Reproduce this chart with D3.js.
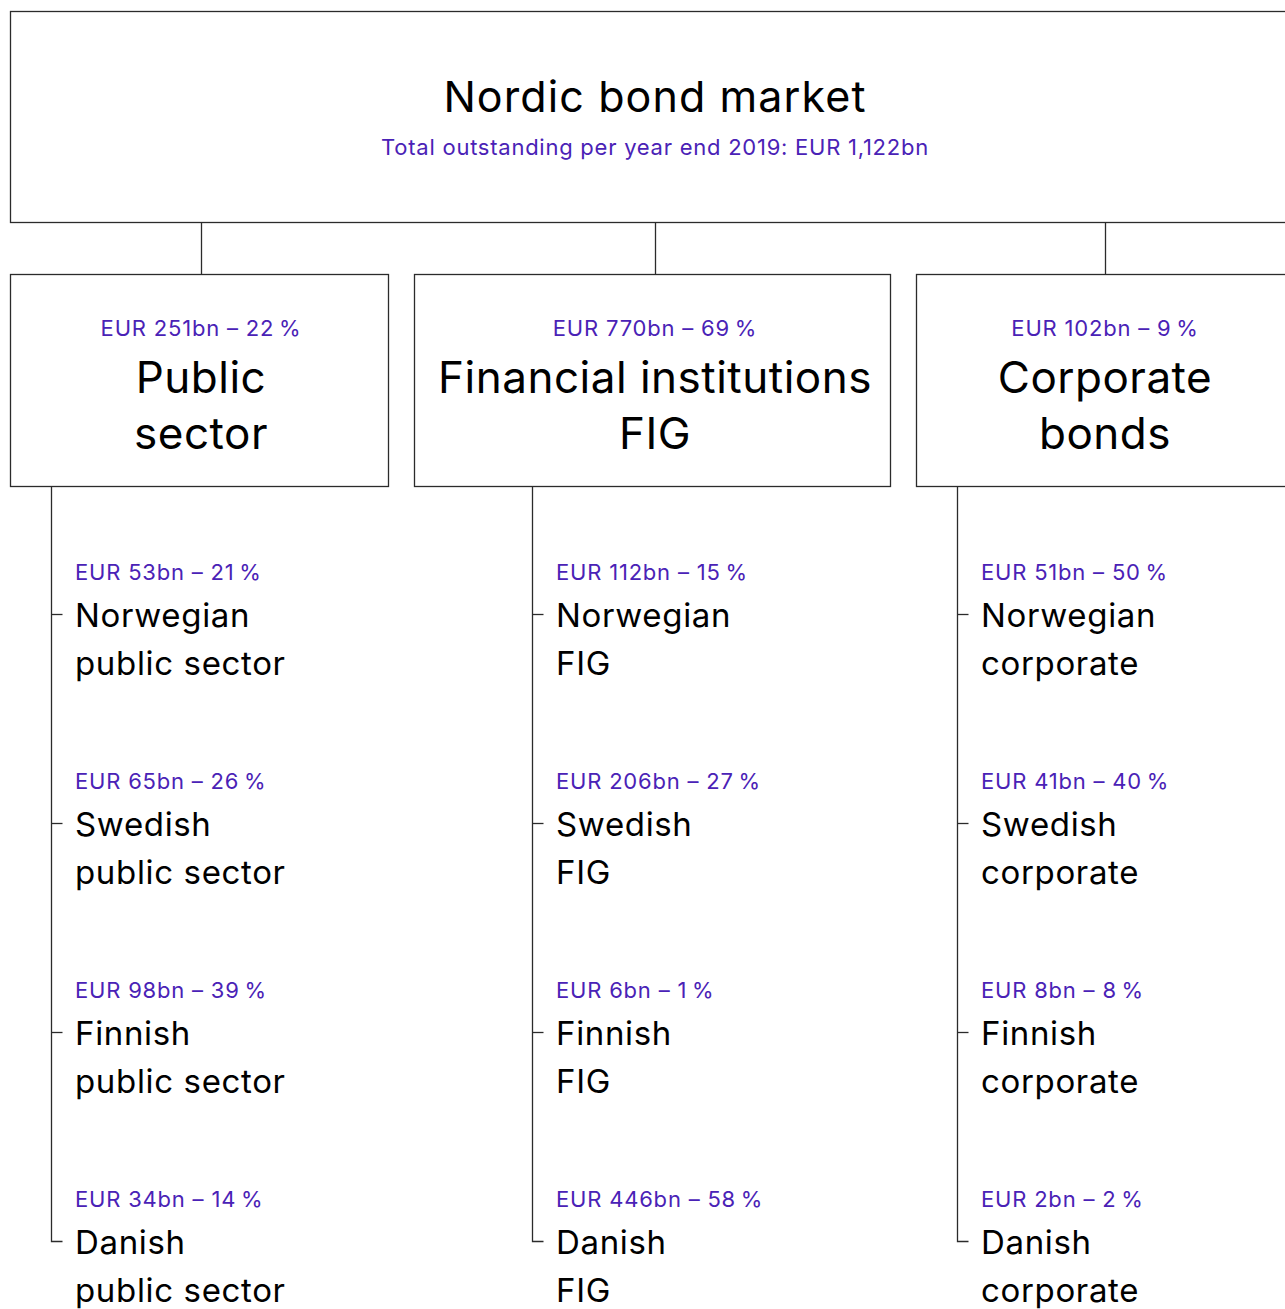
<!DOCTYPE html>
<html><head><meta charset="utf-8">
<script src="https://cdn.jsdelivr.net/npm/d3@7"></script>
<style>
html,body{margin:0;padding:0;background:#fff;overflow:hidden}
svg{display:block}
</style></head>
<body>
<script>
// ---- data ----
const title = "Nordic bond market";
const subtitle = "Total outstanding per year end 2019: EUR 1,122bn";
const sectorNames = [["Public", "sector"], ["Financial institutions", "FIG"], ["Corporate", "bonds"]];
const sectorValues = [251, 770, 102];
const sectorShares = [22, 69, 9];
const countries = ["Norwegian", "Swedish", "Finnish", "Danish"];
const childSuffix = ["public sector", "FIG", "corporate"];
const publicValues = [53, 65, 98, 34];
const publicShares = [21, 26, 39, 14];
const figValues = [112, 206, 6, 446];
const figShares = [15, 27, 1, 58];
const corpValues = [51, 41, 8, 2];
const corpShares = [50, 40, 8, 2];

const childValues = [publicValues, figValues, corpValues];
const childShares = [publicShares, figShares, corpShares];

// ---- layout ----
const W = 1285, H = 1309;
const PURPLE = "#4a22b6", STROKE = "#2b2b2b", FONT = "Inter, 'Noto Sans', sans-serif";
const svg = d3.select("body").append("svg").attr("width", W).attr("height", H);

const root = d3.hierarchy({
  name: title,
  children: sectorNames.map((n, i) => ({
    name: n, value: sectorValues[i], share: sectorShares[i],
    children: countries.map((c, j) => ({name: [c, childSuffix[i]], value: childValues[i][j], share: childShares[i][j]}))
  }))
});

const fmt = (v, s) => `EUR ${v}bn – ${s}\u2009%`;

// top box
const topBox = {x0: 10, x1: 1300, y0: 11, y1: 222};
svg.append("rect").attr("x", topBox.x0 + .5).attr("y", topBox.y0 + .5)
  .attr("width", topBox.x1 - topBox.x0).attr("height", topBox.y1 - topBox.y0)
  .attr("fill", "none").attr("stroke", STROKE).attr("stroke-width", 1.3);
svg.append("text").attr("x", 655).attr("y", 112).attr("text-anchor", "middle")
  .attr("font-family", FONT).attr("font-size", 43).attr("letter-spacing", 1.1)
  .attr("fill", "#000").text(root.data.name);
svg.append("text").attr("x", 655).attr("y", 155).attr("text-anchor", "middle")
  .attr("font-family", FONT).attr("font-size", 22).attr("letter-spacing", 0.75)
  .attr("fill", PURPLE).text(subtitle);

// sector boxes
const boxX0 = [10, 414, 916], boxX1 = [388, 890, 1294];
const centers = [201, 655, 1105];
const branchX = [51, 532, 957];
const boxY0 = 274, boxY1 = 486;
const rowY = d3.scalePoint().domain(d3.range(countries.length)).range([614, 1241]);

root.children.forEach((s, i) => {
  const g = svg.append("g");
  g.append("line").attr("x1", centers[i] + .5).attr("x2", centers[i] + .5)
    .attr("y1", topBox.y1).attr("y2", boxY0).attr("stroke", STROKE).attr("stroke-width", 1.3);
  g.append("rect").attr("x", boxX0[i] + .5).attr("y", boxY0 + .5)
    .attr("width", boxX1[i] - boxX0[i]).attr("height", boxY1 - boxY0)
    .attr("fill", "none").attr("stroke", STROKE).attr("stroke-width", 1.3);
  g.append("text").attr("x", centers[i]).attr("y", 336).attr("text-anchor", "middle")
    .attr("font-family", FONT).attr("font-size", 22).attr("letter-spacing", 0.8).attr("fill", PURPLE)
    .text(fmt(s.data.value, s.data.share));
  s.data.name.forEach((ln, k) => {
    g.append("text").attr("x", centers[i]).attr("y", 393 + k * 56).attr("text-anchor", "middle")
      .attr("font-family", FONT).attr("font-size", 44).attr("letter-spacing", 0.5)
      .attr("fill", "#000").text(ln);
  });
  const bx = branchX[i] + .5;
  const lastY = rowY(countries.length - 1) + .5;
  g.append("path").attr("d", `M${bx},${boxY1}V${lastY}H${bx + 11}`)
    .attr("fill", "none").attr("stroke", STROKE).attr("stroke-width", 1.3);
  s.children.forEach((c, j) => {
    const y = rowY(j);
    if (j < countries.length - 1)
      g.append("line").attr("x1", bx).attr("x2", bx + 11).attr("y1", y + .5).attr("y2", y + .5)
        .attr("stroke", STROKE).attr("stroke-width", 1.3);
    const tx = branchX[i] + 24;
    g.append("text").attr("x", tx).attr("y", y - 34).attr("font-family", FONT)
      .attr("font-size", 22).attr("letter-spacing", 0.8).attr("fill", PURPLE)
      .text(fmt(c.data.value, c.data.share));
    c.data.name.forEach((ln, k) => {
      g.append("text").attr("x", tx).attr("y", y + 13 + k * 48).attr("font-family", FONT)
        .attr("font-size", 33).attr("letter-spacing", 0.65).attr("fill", "#000").text(ln);
    });
  });
});
</script>
</body></html>
